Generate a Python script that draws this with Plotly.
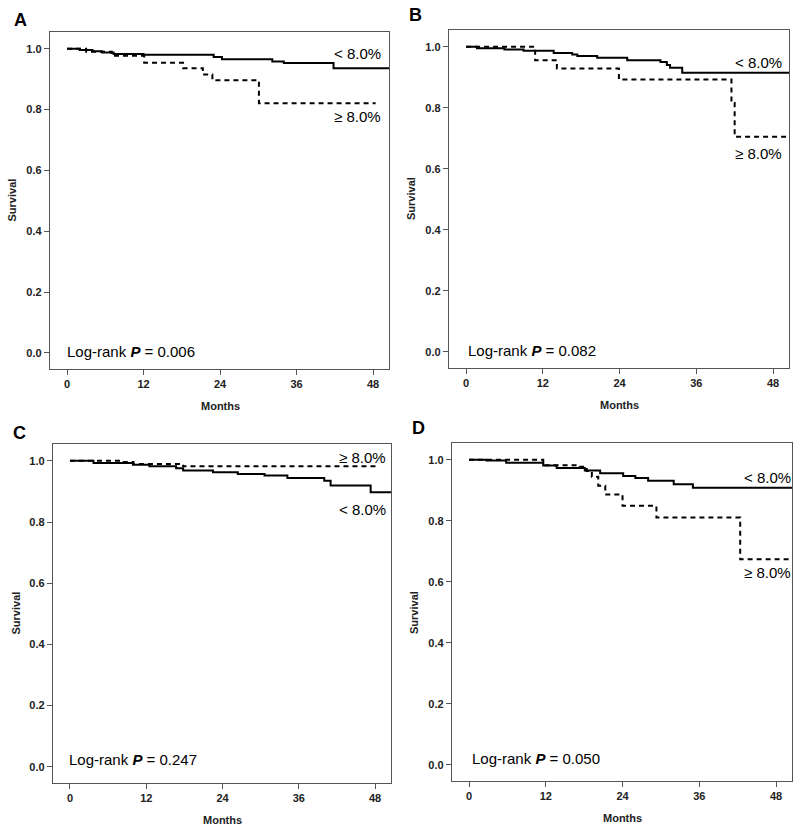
import plotly.graph_objects as go

# ---------------- data (months, survival) ----------------
A_lt_t = [0, 2, 4, 5.5, 7.3, 12.0, 23.0, 24.3, 32.2, 34.0, 41.8, 50.5]
A_lt_s = [1.0, 0.996, 0.992, 0.988, 0.983, 0.980, 0.973, 0.965, 0.958, 0.953, 0.936, 0.936]
A_ge_t = [0, 3, 7, 12.1, 18.2, 21.3, 22.8, 30.1, 48.4]
A_ge_s = [1.0, 0.99, 0.977, 0.954, 0.936, 0.915, 0.896, 0.821, 0.821]

B_lt_t = [0, 1.7, 6, 9, 13.7, 16.6, 17.4, 20.5, 25.2, 30.4, 31.4, 31.9, 33.8, 50.5]
B_lt_s = [1.0, 0.995, 0.991, 0.987, 0.98, 0.975, 0.97, 0.964, 0.956, 0.95, 0.94, 0.931, 0.915, 0.915]
B_ge_t = [0, 10.8, 14.2, 23.9, 41.5, 42.0, 50.5]
B_ge_s = [1.0, 0.956, 0.929, 0.893, 0.816, 0.705, 0.705]

C_lt_t = [0, 3.7, 9.9, 12.5, 16.7, 17.8, 22.5, 26.4, 30.6, 34.2, 40, 41, 47.3, 50.5]
C_lt_s = [1.0, 0.993, 0.987, 0.982, 0.976, 0.968, 0.963, 0.957, 0.952, 0.944, 0.935, 0.919, 0.897, 0.897]
C_ge_t = [0, 8.1, 10, 17.8, 48.1]
C_ge_s = [1.0, 0.996, 0.99, 0.982, 0.982]

D_lt_t = [0, 2.7, 5.8, 11.6, 13.7, 18.1, 20.5, 24.1, 26, 28, 32, 35, 50.5]
D_lt_s = [1.0, 0.998, 0.99, 0.981, 0.973, 0.965, 0.956, 0.947, 0.94, 0.931, 0.92, 0.908, 0.908]
D_ge_t = [0, 11.6, 17.3, 18.4, 19.2, 20.2, 21.3, 24.0, 29.3, 42.4, 50.5]
D_ge_s = [1.0, 0.982, 0.977, 0.963, 0.944, 0.915, 0.886, 0.849, 0.811, 0.674, 0.674]

panel_letters = ["A", "B", "C", "D"]
p_values = ["0.006", "0.082", "0.247", "0.050"]
x_ticks = [0, 12, 24, 36, 48]
x_ticklabels = ["0", "12", "24", "36", "48"]
y_ticks = [0.0, 0.2, 0.4, 0.6, 0.8, 1.0]
y_ticklabels = ["0.0", "0.2", "0.4", "0.6", "0.8", "1.0"]
label_lt = "&lt; 8.0%"
label_ge = "≥ 8.0%"

W, H = 800, 831
FONT = "Liberation Sans, Arial, sans-serif"
NARROW = "Liberation Sans Narrow, Arial Narrow, Liberation Sans, Arial, sans-serif"

# panel boxes in pixels: left, right, top, bottom
boxes = [(50, 389, 32, 369), (449, 789, 30, 368), (53, 391, 444, 783), (452, 792, 443, 781)]
series = [
    (A_lt_t, A_lt_s, A_ge_t, A_ge_s),
    (B_lt_t, B_lt_s, B_ge_t, B_ge_s),
    (C_lt_t, C_lt_s, C_ge_t, C_ge_s),
    (D_lt_t, D_lt_s, D_ge_t, D_ge_s),
]
lab_pos = [
    ((45.5, 0.984), (45.5, 0.777)),
    ((45.7, 0.949), (45.7, 0.650)),
    ((46.0, 0.842), (46.0, 1.010)),
    ((46.6, 0.941), (46.6, 0.630)),
]
lr_pos = [(-0.3, 0.005), (0.0, 0.005), (-0.4, 0.025), (0.1, 0.022)]
letter_pos = [(20, 20), (415, 15), (19, 433), (418, 428)]

fig = go.Figure()
annotations = []
XR = [-2.67, 50.5]
YR = [-0.053, 1.055]

for i, (box, (lt_t, lt_s, ge_t, ge_s)) in enumerate(zip(boxes, series)):
    n = "" if i == 0 else str(i + 1)
    xa, ya = "x" + n, "y" + n
    l, r, t, b = box
    fig.add_trace(go.Scatter(x=lt_t, y=lt_s, mode="lines", line=dict(shape="hv", color="black", width=2),
                             xaxis=xa, yaxis=ya, showlegend=False, hoverinfo="skip"))
    fig.add_trace(go.Scatter(x=ge_t, y=ge_s, mode="lines",
                             line=dict(shape="hv", color="black", width=2, dash="5px,4px"),
                             xaxis=xa, yaxis=ya, showlegend=False, hoverinfo="skip"))
    axcommon = dict(showline=True, linecolor="#555555", linewidth=1.3, mirror=True, ticks="outside",
                    ticklen=5, tickcolor="#555555", tickwidth=1.3, showgrid=False, zeroline=False,
                    tickfont=dict(family=NARROW, size=11, color="#222222"))
    fig.update_layout(**{
        ("xaxis" + n): dict(domain=[l / W, r / W], range=XR, anchor=ya, tickvals=x_ticks,
                            ticktext=["<b>" + s + "</b>" for s in x_ticklabels], **axcommon),
        ("yaxis" + n): dict(domain=[1 - b / H, 1 - t / H], range=YR, anchor=xa, tickvals=y_ticks,
                            ticktext=["<b>" + s + "</b>" for s in y_ticklabels], **axcommon),
    })
    (lx1, ly1), (lx2, ly2) = lab_pos[i]
    annotations.append(dict(x=lx1, y=ly1, xref=xa, yref=ya, text=label_lt, showarrow=False,
                            font=dict(family=FONT, size=15, color="black"), xanchor="center", yanchor="middle"))
    annotations.append(dict(x=lx2, y=ly2, xref=xa, yref=ya, text=label_ge, showarrow=False,
                            font=dict(family=FONT, size=15, color="black"), xanchor="center", yanchor="middle"))
    px, py = lr_pos[i]
    annotations.append(dict(x=px, y=py, xref=xa, yref=ya, text="Log-rank <b><i>P</i></b> = " + p_values[i],
                            showarrow=False, font=dict(family=FONT, size=15, color="black"),
                            xanchor="left", yanchor="middle"))
    gx, gy = letter_pos[i]
    annotations.append(dict(x=gx / W, y=1 - gy / H, xref="paper", yref="paper", text="<b>" + panel_letters[i] + "</b>",
                            showarrow=False, font=dict(family=FONT, size=18, color="black"),
                            xanchor="center", yanchor="middle"))
    annotations.append(dict(x=(l - 38) / W, y=1 - ((t + b) / 2) / H, xref="paper", yref="paper",
                            text="<b>Survival</b>", textangle=-90, showarrow=False,
                            font=dict(family=FONT, size=11, color="#222222"),
                            xanchor="center", yanchor="middle"))
    annotations.append(dict(x=((l + 17) + (r - 16)) / 2 / W, y=1 - (b + 37) / H, xref="paper", yref="paper",
                            text="<b>Months</b>", showarrow=False,
                            font=dict(family=FONT, size=11, color="#222222"), xanchor="center", yanchor="middle"))

fig.update_layout(width=W, height=H, margin=dict(l=0, r=0, t=0, b=0), paper_bgcolor="white",
                  plot_bgcolor="white", annotations=annotations, showlegend=False)

fig.write_html("out.html", config={"displayModeBar": False},
               post_script="document.body.style.margin='0';document.body.style.overflow='hidden';")
